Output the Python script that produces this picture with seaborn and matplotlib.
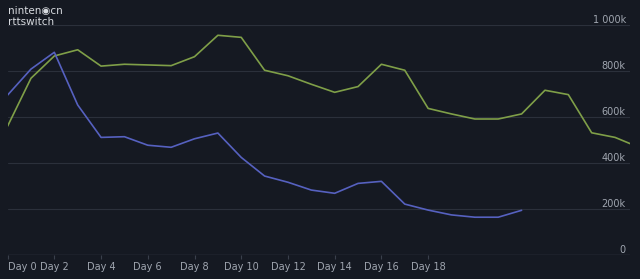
import matplotlib
matplotlib.use("Agg")
import matplotlib.pyplot as plt
import seaborn as sns
import pandas as pd
from matplotlib.ticker import FuncFormatter

green_days = list(range(28))
green_vals = [559, 767, 864, 891, 820, 828, 825, 822, 861, 954, 945, 802, 778, 741,
              706, 731, 828, 802, 636, 612, 590, 590, 612, 715, 696, 530, 510, 468]
blue_days = list(range(23))
blue_vals = [694, 807, 880, 651, 510, 513, 476, 467, 504, 529, 423, 342, 315, 281,
             267, 310, 319, 220, 194, 173, 163, 163, 193]
x_ticks = list(range(0, 19, 2))
x_labels = [f"Day {d}" for d in x_ticks]
y_ticks = [0, 200000, 400000, 600000, 800000, 1000000]

df = pd.concat([
    pd.DataFrame({"day": green_days, "value": [v * 1000 for v in green_vals], "series": "A"}),
    pd.DataFrame({"day": blue_days, "value": [v * 1000 for v in blue_vals], "series": "B"}),
])

sns.set_style("dark")
plt.rcParams['font.family'] = ['DejaVu Sans']
bg = "#151922"
fig = plt.figure(figsize=(6.4, 2.79), dpi=100, facecolor=bg)
ax = fig.add_axes([7.6 / 640, 24.3 / 279, (630 - 7.6) / 640, 230 / 279])
ax.set_facecolor(bg)

sns.lineplot(data=df, x="day", y="value", hue="series",
             palette={"A": "#7f9f48", "B": "#5661c0"}, linewidth=1.2,
             legend=False, ax=ax)

ax.set_xlim(0, 26.64)
ax.set_ylim(0, 1000000)
for s in ax.spines.values():
    s.set_visible(False)
ax.grid(False)
for yv in y_ticks[1:]:
    ax.axhline(yv, color="#2b303b", lw=0.8, zorder=0)
ax.axhline(0, color="#3a404c", lw=1.0, zorder=0)

ax.set_xticks(x_ticks)
ax.set_xticklabels(x_labels)
ax.tick_params(axis="x", colors="#3a404c", length=3, width=0.8, pad=2,
               labelsize=7, labelcolor="#a0a6b0", bottom=True)
ax.get_xticklabels()[0].set_horizontalalignment("left")

ax.yaxis.tick_right()
ax.set_yticks(y_ticks)
ax.yaxis.set_major_formatter(FuncFormatter(
    lambda v, p: "0" if v == 0 else ("1 000k" if v >= 1e6 else f"{int(v/1000)}k")))
ax.tick_params(axis="y", length=0, pad=-3, labelsize=7, labelcolor="#a0a6b0")
for lab in ax.get_yticklabels():
    lab.set_horizontalalignment("right")
    lab.set_verticalalignment("bottom")
ax.set_xlabel("")
ax.set_ylabel("")

fig.text(8 / 640, 1 - 11 / 279, "ninten\u25c9cn", color="#d8dbe0", fontsize=7.5,
         va="center", ha="left")
fig.text(8 / 640, 1 - 22 / 279, "rttswitch", color="#d8dbe0", fontsize=7.5,
         va="center", ha="left")

fig.savefig("out.png", dpi=100, facecolor=bg)
